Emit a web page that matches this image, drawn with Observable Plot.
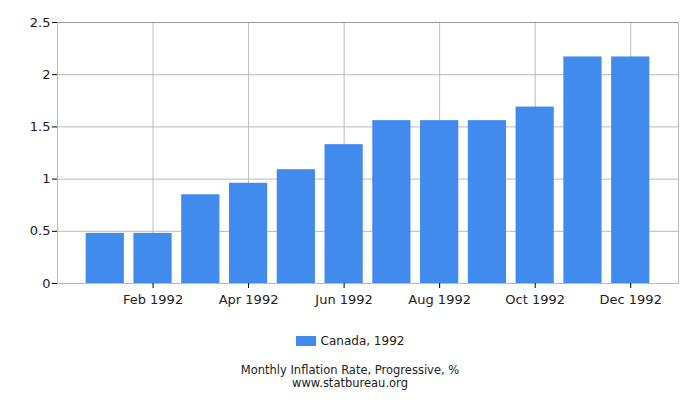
<!DOCTYPE html>
<html>
<head>
<meta charset="utf-8">
<script src="https://cdn.jsdelivr.net/npm/d3@7"></script>
<script src="https://cdn.jsdelivr.net/npm/@observablehq/plot@0.6"></script>
<style>
  body { margin: 0; background: #fff; font-family: "DejaVu Sans", sans-serif; }
  #wrap { position: relative; width: 700px; height: 400px; }
  #legend { position: absolute; top: 334px; left: 0; width: 700px; text-align: center; font-size: 12px; color: #222; }
  #legend .sw { display: inline-block; width: 20px; height: 10px; background: #418bef; vertical-align: -1px; margin-right: 5px; }
  #caption { position: absolute; top: 364px; left: 0; width: 700px; text-align: center; font-size: 11.5px; line-height: 13px; color: #222; }
</style>
</head>
<body>
<div id="wrap">
  <div id="chart"></div>
  <div id="legend"><span class="sw"></span>Canada, 1992</div>
  <div id="caption">Monthly Inflation Rate, Progressive, %<br>www.statbureau.org</div>
</div>
<script>
const months = ["Jan 1992","Feb 1992","Mar 1992","Apr 1992","May 1992","Jun 1992","Jul 1992","Aug 1992","Sep 1992","Oct 1992","Nov 1992","Dec 1992"];
const values = [0.48, 0.48, 0.85, 0.96, 1.09, 1.33, 1.56, 1.56, 1.56, 1.69, 2.17, 2.17];
const xTicks = ["Feb 1992","Apr 1992","Jun 1992","Aug 1992","Oct 1992","Dec 1992"];
const yTicks = [0, 0.5, 1, 1.5, 2, 2.5];

const data = months.map((m, i) => ({month: m, value: values[i]}));

const chart = Plot.plot({
  width: 700,
  height: 310,
  marginLeft: 57,
  marginRight: 22,
  marginTop: 22,
  marginBottom: 27,
  style: {fontFamily: "DejaVu Sans, sans-serif", fontSize: "13px", color: "#222", background: "#fff"},
  x: {type: "band", domain: months, paddingInner: 0.2, paddingOuter: 0.6, round: false, label: null},
  y: {domain: [0, 2.5], label: null},
  marks: [
    Plot.gridY({ticks: yTicks.slice(1, 5), stroke: "#bbb", strokeOpacity: 1}),
    Plot.gridX({ticks: xTicks, stroke: "#bbb", strokeOpacity: 1}),
    Plot.frame({stroke: "#bbb"}),
    Plot.gridY({ticks: [2.5], stroke: "#999", strokeOpacity: 1}),
    Plot.barY(data, {x: "month", y: "value", fill: "#418bef"}),
    Plot.axisY({ticks: yTicks, tickSize: 5, tickPadding: 2, tickFormat: d => String(d), stroke: "#000", fill: "#222"}),
    Plot.axisX({ticks: xTicks, tickSize: 5, tickPadding: 6, stroke: "#000", fill: "#222"})
  ]
});
document.getElementById("chart").appendChild(chart);
</script>
</body>
</html>
